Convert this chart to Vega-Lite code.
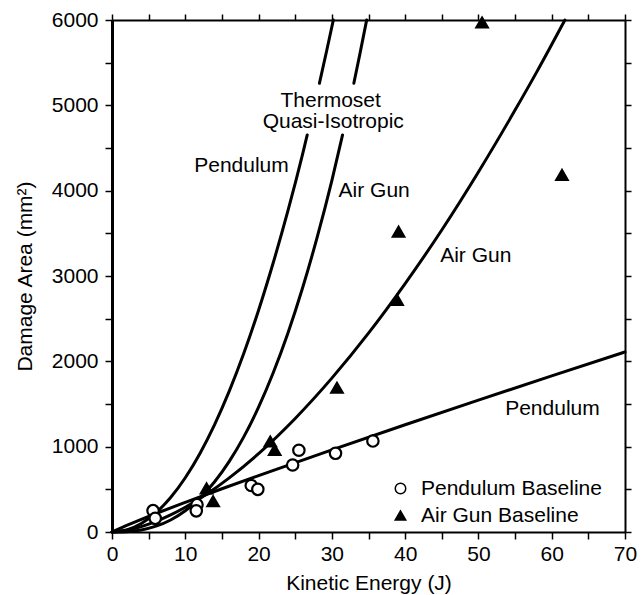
{
  "$schema": "https://vega.github.io/schema/vega-lite/v6.json",
  "width": 513,
  "height": 512,
  "autosize": {"type": "none"},
  "padding": {"left": 112, "top": 20, "right": 18, "bottom": 63},
  "background": "white",
  "config": {
    "view": {"stroke": null},
    "font": "Liberation Sans",
    "axis": {
      "grid": false,
      "domainColor": "black",
      "tickColor": "black",
      "labelColor": "black",
      "titleColor": "black",
      "labelFontSize": 21,
      "titleFontSize": 21,
      "titleFontWeight": "normal",
      "labelFont": "Liberation Sans",
      "titleFont": "Liberation Sans",
      "labelOverlap": false,
      "labelFlush": false,
      "tickWidth": 1.5
    }
  },
  "datasets": {
    "curves": [
      {"seg": "P1a", "x": 0, "y": 0}, {"seg": "P1a", "x": 2, "y": 24}, {"seg": "P1a", "x": 4, "y": 99}, {"seg": "P1a", "x": 6, "y": 226}, {"seg": "P1a", "x": 8, "y": 404}, {"seg": "P1a", "x": 10, "y": 636}, {"seg": "P1a", "x": 12, "y": 921}, {"seg": "P1a", "x": 14, "y": 1259}, {"seg": "P1a", "x": 16, "y": 1651}, {"seg": "P1a", "x": 18, "y": 2097}, {"seg": "P1a", "x": 20, "y": 2599}, {"seg": "P1a", "x": 22, "y": 3155}, {"seg": "P1a", "x": 24, "y": 3762}, {"seg": "P1a", "x": 26, "y": 4426}, {"seg": "P1a", "x": 26.64, "y": 4653},
      {"seg": "P1b", "x": 28.3, "y": 5258}, {"seg": "P1b", "x": 29.3, "y": 5643}, {"seg": "P1b", "x": 30.2, "y": 6000},
      {"seg": "A2a", "x": 0, "y": 0}, {"seg": "A2a", "x": 2, "y": 4}, {"seg": "A2a", "x": 4, "y": 24}, {"seg": "A2a", "x": 6, "y": 68}, {"seg": "A2a", "x": 8, "y": 141}, {"seg": "A2a", "x": 10, "y": 249}, {"seg": "A2a", "x": 12, "y": 397}, {"seg": "A2a", "x": 14, "y": 589}, {"seg": "A2a", "x": 16, "y": 828}, {"seg": "A2a", "x": 18, "y": 1118}, {"seg": "A2a", "x": 20, "y": 1463}, {"seg": "A2a", "x": 22, "y": 1866}, {"seg": "A2a", "x": 24, "y": 2329}, {"seg": "A2a", "x": 26, "y": 2859}, {"seg": "A2a", "x": 28, "y": 3455}, {"seg": "A2a", "x": 30, "y": 4118}, {"seg": "A2a", "x": 31.46, "y": 4653},
      {"seg": "A2b", "x": 33.0, "y": 5258}, {"seg": "A2b", "x": 33.8, "y": 5591}, {"seg": "A2b", "x": 34.75, "y": 6000},
      {"seg": "A3", "x": 0, "y": 0}, {"seg": "A3", "x": 2, "y": 20}, {"seg": "A3", "x": 4, "y": 63}, {"seg": "A3", "x": 6, "y": 124}, {"seg": "A3", "x": 8, "y": 200}, {"seg": "A3", "x": 10, "y": 290}, {"seg": "A3", "x": 13, "y": 448}, {"seg": "A3", "x": 16, "y": 634}, {"seg": "A3", "x": 20, "y": 918}, {"seg": "A3", "x": 25, "y": 1331}, {"seg": "A3", "x": 30, "y": 1803}, {"seg": "A3", "x": 35, "y": 2330}, {"seg": "A3", "x": 40, "y": 2911}, {"seg": "A3", "x": 45, "y": 3539}, {"seg": "A3", "x": 50, "y": 4219}, {"seg": "A3", "x": 55, "y": 4944}, {"seg": "A3", "x": 58, "y": 5398}, {"seg": "A3", "x": 61.8, "y": 6000},
      {"seg": "P4", "x": 0, "y": 0}, {"seg": "P4", "x": 2, "y": 78}, {"seg": "P4", "x": 4, "y": 149}, {"seg": "P4", "x": 6, "y": 217}, {"seg": "P4", "x": 10, "y": 348}, {"seg": "P4", "x": 15, "y": 507}, {"seg": "P4", "x": 20, "y": 661}, {"seg": "P4", "x": 30, "y": 963}, {"seg": "P4", "x": 40, "y": 1257}, {"seg": "P4", "x": 50, "y": 1546}, {"seg": "P4", "x": 60, "y": 1830}, {"seg": "P4", "x": 70, "y": 2110}
    ],
    "points": [
      {"type": "Pendulum Baseline", "x": 5.6, "y": 250},
      {"type": "Pendulum Baseline", "x": 5.9, "y": 160},
      {"type": "Pendulum Baseline", "x": 11.6, "y": 320},
      {"type": "Pendulum Baseline", "x": 11.5, "y": 248},
      {"type": "Pendulum Baseline", "x": 19.0, "y": 545},
      {"type": "Pendulum Baseline", "x": 19.9, "y": 500},
      {"type": "Pendulum Baseline", "x": 24.65, "y": 785},
      {"type": "Pendulum Baseline", "x": 25.5, "y": 958},
      {"type": "Pendulum Baseline", "x": 30.5, "y": 922},
      {"type": "Pendulum Baseline", "x": 35.6, "y": 1066},
      {"type": "Air Gun Baseline", "x": 12.9, "y": 510},
      {"type": "Air Gun Baseline", "x": 13.8, "y": 360},
      {"type": "Air Gun Baseline", "x": 21.6, "y": 1060},
      {"type": "Air Gun Baseline", "x": 22.2, "y": 960},
      {"type": "Air Gun Baseline", "x": 30.7, "y": 1690},
      {"type": "Air Gun Baseline", "x": 38.9, "y": 2720},
      {"type": "Air Gun Baseline", "x": 39.1, "y": 3520},
      {"type": "Air Gun Baseline", "x": 50.5, "y": 5970},
      {"type": "Air Gun Baseline", "x": 61.4, "y": 4185}
    ],
    "labels": [
      {"label": "Thermoset", "x": 29.84, "y": 4984},
      {"label": "Quasi-Isotropic", "x": 30.19, "y": 4738},
      {"label": "Pendulum", "x": 17.67, "y": 4219},
      {"label": "Air Gun", "x": 35.77, "y": 3930},
      {"label": "Air Gun", "x": 49.64, "y": 3168},
      {"label": "Pendulum", "x": 60.1, "y": 1371}
    ]
  },
  "layer": [
    {
      "data": {"name": "curves"},
      "mark": {"type": "line", "color": "black", "strokeWidth": 3, "interpolate": "monotone", "strokeCap": "round"},
      "encoding": {
        "x": {
          "field": "x", "type": "quantitative",
          "scale": {"domain": [0, 70], "nice": false, "zero": false},
          "axis": {
            "orient": "bottom",
            "values": [0, 5, 10, 15, 20, 25, 30, 35, 40, 45, 50, 55, 60, 65, 70],
            "labelExpr": "datum.value % 10 === 0 ? datum.label : ''",
            "title": "Kinetic Energy (J)",
            "tickSize": 7,
            "domainWidth": 2,
            "labelPadding": 4,
            "titlePadding": 8
          }
        },
        "y": {
          "field": "y", "type": "quantitative",
          "scale": {"domain": [0, 6000], "nice": false, "zero": false},
          "axis": {
            "orient": "left",
            "values": [0, 500, 1000, 1500, 2000, 2500, 3000, 3500, 4000, 4500, 5000, 5500, 6000],
            "labelExpr": "datum.value % 1000 === 0 ? datum.label : ''",
            "format": "d",
            "title": "Damage Area (mm²)",
            "tickSize": 7,
            "domainWidth": 3,
            "labelPadding": 7,
            "titlePadding": 16
          }
        },
        "detail": {"field": "seg", "type": "nominal"}
      }
    },
    {
      "data": {"name": "labels"},
      "mark": {"type": "text", "fontSize": 21, "align": "center", "baseline": "alphabetic", "color": "black", "font": "Liberation Sans"},
      "encoding": {
        "x": {"field": "x", "type": "quantitative", "scale": {"domain": [0, 70], "nice": false, "zero": false}, "axis": null},
        "y": {"field": "y", "type": "quantitative", "scale": {"domain": [0, 6000], "nice": false, "zero": false}, "axis": null},
        "text": {"field": "label", "type": "nominal"}
      }
    },
    {
      "data": {"name": "points"},
      "mark": {"type": "point", "filled": true, "stroke": "black", "strokeWidth": 2.2, "size": 130, "opacity": 1},
      "encoding": {
        "x": {
          "field": "x", "type": "quantitative",
          "scale": {"domain": [0, 70], "nice": false, "zero": false},
          "axis": {
            "orient": "top",
            "values": [0, 5, 10, 15, 20, 25, 30, 35, 40, 45, 50, 55, 60, 65, 70],
            "labels": false, "title": null, "tickSize": 6, "domainWidth": 2
          }
        },
        "y": {
          "field": "y", "type": "quantitative",
          "scale": {"domain": [0, 6000], "nice": false, "zero": false},
          "axis": {
            "orient": "right",
            "values": [0, 500, 1000, 1500, 2000, 2500, 3000, 3500, 4000, 4500, 5000, 5500, 6000],
            "labels": false, "title": null, "tickSize": 6, "domainWidth": 2
          }
        },
        "shape": {
          "field": "type", "type": "nominal",
          "scale": {"domain": ["Pendulum Baseline", "Air Gun Baseline"], "range": ["circle", "triangle-up"]},
          "legend": {
            "orient": "none", "legendX": 278, "legendY": 458, "title": null, "padding": 0,
            "labelFontSize": 21, "labelColor": "black", "labelFont": "Liberation Sans", "labelLimit": 0,
            "symbolSize": 110, "rowPadding": 5, "labelOffset": 10,
            "encode": {"symbols": {"update": {"stroke": {"value": "black"}, "strokeWidth": {"value": 2.2}}}}
          }
        },
        "fill": {
          "field": "type", "type": "nominal",
          "scale": {"domain": ["Pendulum Baseline", "Air Gun Baseline"], "range": ["white", "black"]},
          "legend": {
            "orient": "none", "legendX": 278, "legendY": 458, "title": null, "padding": 0,
            "labelFontSize": 21, "labelColor": "black", "labelFont": "Liberation Sans", "labelLimit": 0,
            "symbolSize": 110, "rowPadding": 5, "labelOffset": 10,
            "encode": {"symbols": {"update": {"stroke": {"value": "black"}, "strokeWidth": {"value": 2.2}}}}
          }
        }
      }
    }
  ],
  "resolve": {"axis": {"x": "independent", "y": "independent"}}
}
